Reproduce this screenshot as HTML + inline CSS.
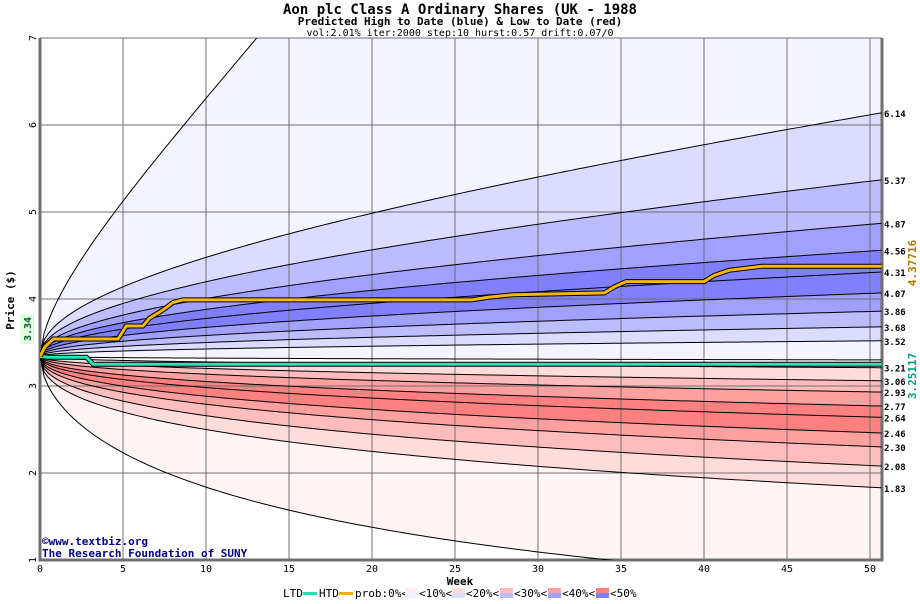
<!DOCTYPE html>
<html><head><meta charset="utf-8"><style>
body{margin:0;background:#fff;width:920px;height:600px;overflow:hidden;font-family:"DejaVu Sans Mono","Liberation Mono",monospace}
</style></head><body>
<svg id="chart" width="920" height="600" xmlns="http://www.w3.org/2000/svg" font-family="DejaVu Sans Mono, Liberation Mono, monospace">
<text x="460" y="14" text-anchor="middle" font-size="14" font-weight="bold">Aon plc Class A Ordinary Shares (UK - 1988</text>
<text x="460" y="25" text-anchor="middle" font-size="11" font-weight="bold">Predicted High to Date (blue) &amp;  Low to Date (red)</text>
<text x="460" y="36" text-anchor="middle" font-size="10">vol:2.01% iter:2000 step:10 hurst:0.57 drift:0.07/0</text>
<defs><clipPath id="pc"><rect x="40" y="38" width="842" height="522"/></clipPath></defs>
<rect x="40" y="38" width="842" height="522" fill="#fff"/>
<g id="bands" clip-path="url(#pc)"></g>
<g id="grid"></g>
<g id="curves" clip-path="url(#pc)"></g>
<g id="series" clip-path="url(#pc)"></g>
<g id="labels"></g>
<text transform="translate(14,300) rotate(-90)" text-anchor="middle" font-size="11" font-weight="bold">Price ($)</text>
<text x="460" y="585" text-anchor="middle" font-size="11" font-weight="bold">Week</text>
<text x="42" y="545" font-size="11" font-weight="bold" fill="#000080">©www.textbiz.org</text>
<text x="42" y="557" font-size="11" font-weight="bold" fill="#000080">The Research Foundation of SUNY</text>
<rect x="20" y="314" width="14" height="30" fill="#e0ffe0"/>
<text transform="translate(31,329) rotate(-90)" text-anchor="middle" font-size="10" font-weight="bold" fill="#006030">3.34</text>
<text transform="translate(916,263) rotate(-90)" text-anchor="middle" font-size="11" font-weight="bold" fill="#b07800">4.37716</text>
<text transform="translate(916,376) rotate(-90)" text-anchor="middle" font-size="11" font-weight="bold" fill="#00a080">3.25117</text>
<g font-size="11">
<text x="283" y="597">LTD</text><rect x="303" y="592" width="14" height="3" fill="#20e0b0"/>
<text x="319" y="597">HTD</text><rect x="339" y="592" width="14" height="3" fill="#f0b000"/>
<text x="355" y="597">prob:0%&lt;</text>
<rect x="405" y="588" width="13" height="5" fill="#fff0f0"/><rect x="405" y="593" width="13" height="5" fill="#f0f0ff"/><text x="419" y="597">&lt;10%&lt;</text>
<rect x="452" y="588" width="13" height="5" fill="#ffdcdc"/><rect x="452" y="593" width="13" height="5" fill="#dcdcff"/><text x="466" y="597">&lt;20%&lt;</text>
<rect x="500" y="588" width="13" height="5" fill="#ffbcbc"/><rect x="500" y="593" width="13" height="5" fill="#bcbcff"/><text x="514" y="597">&lt;30%&lt;</text>
<rect x="548" y="588" width="13" height="5" fill="#ffa0a0"/><rect x="548" y="593" width="13" height="5" fill="#a0a0ff"/><text x="562" y="597">&lt;40%&lt;</text>
<rect x="596" y="588" width="13" height="5" fill="#ff8080"/><rect x="596" y="593" width="13" height="5" fill="#8080ff"/><text x="610" y="597">&lt;50%</text>
</g>
</svg>
<script>
const startPrice = 3.34;
const curveEnds = [16.6, 6.14, 5.37, 4.87, 4.56, 4.31, 4.07, 3.86, 3.68, 3.52, 3.30, 3.21, 3.06, 2.93, 2.77, 2.64, 2.46, 2.30, 2.08, 1.83, 0.74];
const bandColors = ["#f4f4ff","#dcdcff","#bcbcff","#a0a0ff","#8080ff","#8080ff","#a0a0ff","#bcbcff","#dcdcff","#f4f4ff","#ffffff","#ffdcdc","#ffbcbc","#ffa0a0","#ff8080","#ff8080","#ffa0a0","#ffbcbc","#ffdcdc","#fff4f4"];
const endLabels = ["6.14","5.37","4.87","4.56","4.31","4.07","3.86","3.68","3.52","3.21","3.06","2.93","2.77","2.64","2.46","2.30","2.08","1.83"];
const htdWeeks = [0, 0.3, 0.8, 4.7, 5.2, 6.2, 6.6, 7.2, 7.6, 8.0, 8.6, 26, 27, 28.5, 34, 34.6, 35.3, 40, 40.6, 41.5, 43.5, 50.7];
const htdPrices = [3.34, 3.45, 3.54, 3.54, 3.69, 3.69, 3.78, 3.85, 3.9, 3.96, 3.99, 3.99, 4.02, 4.05, 4.07, 4.14, 4.2, 4.2, 4.27, 4.33, 4.377, 4.377];
const ltdWeeks = [0, 0.5, 2.8, 3.2, 50.7];
const ltdPrices = [3.34, 3.33, 3.33, 3.251, 3.251];
const xTicks = [0,5,10,15,20,25,30,35,40,45,50];
const yTicks = [1,2,3,4,5,6,7];
const NS="http://www.w3.org/2000/svg";
const X = w => 40 + w*16.6;
const Y = p => 299 - (p-4)*87;
const TMAX = 50.7;
function curveVal(end,t,k){return startPrice*Math.exp(Math.log(end/startPrice)*Math.pow(t/TMAX,k));}
function pts(end,k){const a=[];for(let t=0;t<=TMAX+0.001;t+=0.25){a.push([X(t),Y(curveVal(end,t,k))]);}a.push([X(TMAX),Y(end)]);return a;}
function expo(i){return (i===0||i===curveEnds.length-1)?0.57:0.45;}
function mk(tag,attrs,parent){const e=document.createElementNS(NS,tag);for(const k in attrs)e.setAttribute(k,attrs[k]);document.getElementById(parent).appendChild(e);return e;}
for(let i=0;i<curveEnds.length-1;i++){
  const a=pts(curveEnds[i],expo(i)),b=pts(curveEnds[i+1],expo(i+1)).reverse();
  const d="M"+a.concat(b).map(p=>p[0].toFixed(1)+","+p[1].toFixed(1)).join("L")+"Z";
  const e=mk('path',{d:d,fill:bandColors[i],stroke:'none'},'bands');
  
  
}
xTicks.forEach(w=>{const e=mk('line',{x1:X(w),x2:X(w),y1:38,y2:560,stroke:'#707070','stroke-width':1},'grid');


const t=mk('text',{x:X(w),y:572,'text-anchor':'middle','font-size':10},'grid');t.textContent=w;

});
yTicks.forEach(p=>{const e=mk('line',{x1:40,x2:882,y1:Y(p),y2:Y(p),stroke:'#707070','stroke-width':1},'grid');


const t=mk('text',{transform:`translate(36,${Y(p)}) rotate(-90)`,'text-anchor':'middle','font-size':10},'grid');t.textContent=p;

});
const ax=mk('path',{d:'M40,38V560H882V38',fill:'none',stroke:'#707070','stroke-width':3},'grid');


curveEnds.forEach((v,i)=>{const a=pts(v,expo(i));const e=mk('polyline',{points:a.map(p=>p.join(",")).join(" "),fill:'none',stroke:'#000','stroke-width':1},'curves');

});
function stepPath(ws,ps){return ws.map((w,i)=>(i?"L":"M")+X(w).toFixed(1)+","+Y(ps[i]).toFixed(1)).join("");}
let e;
e=mk('path',{d:stepPath(ltdWeeks,ltdPrices),fill:'none',stroke:'#000','stroke-width':5},'series');


e=mk('path',{d:stepPath(ltdWeeks,ltdPrices),fill:'none',stroke:'#20e8b8','stroke-width':3},'series');


e=mk('path',{d:stepPath(htdWeeks,htdPrices),fill:'none',stroke:'#000','stroke-width':5},'series');


e=mk('path',{d:stepPath(htdWeeks,htdPrices),fill:'none',stroke:'#f8b800','stroke-width':3},'series');


endLabels.forEach(s=>{const t=mk('text',{x:884,y:Y(parseFloat(s))+4,'font-size':9,'font-weight':'bold'},'labels');t.textContent=s;

});
</script>
</body></html>
